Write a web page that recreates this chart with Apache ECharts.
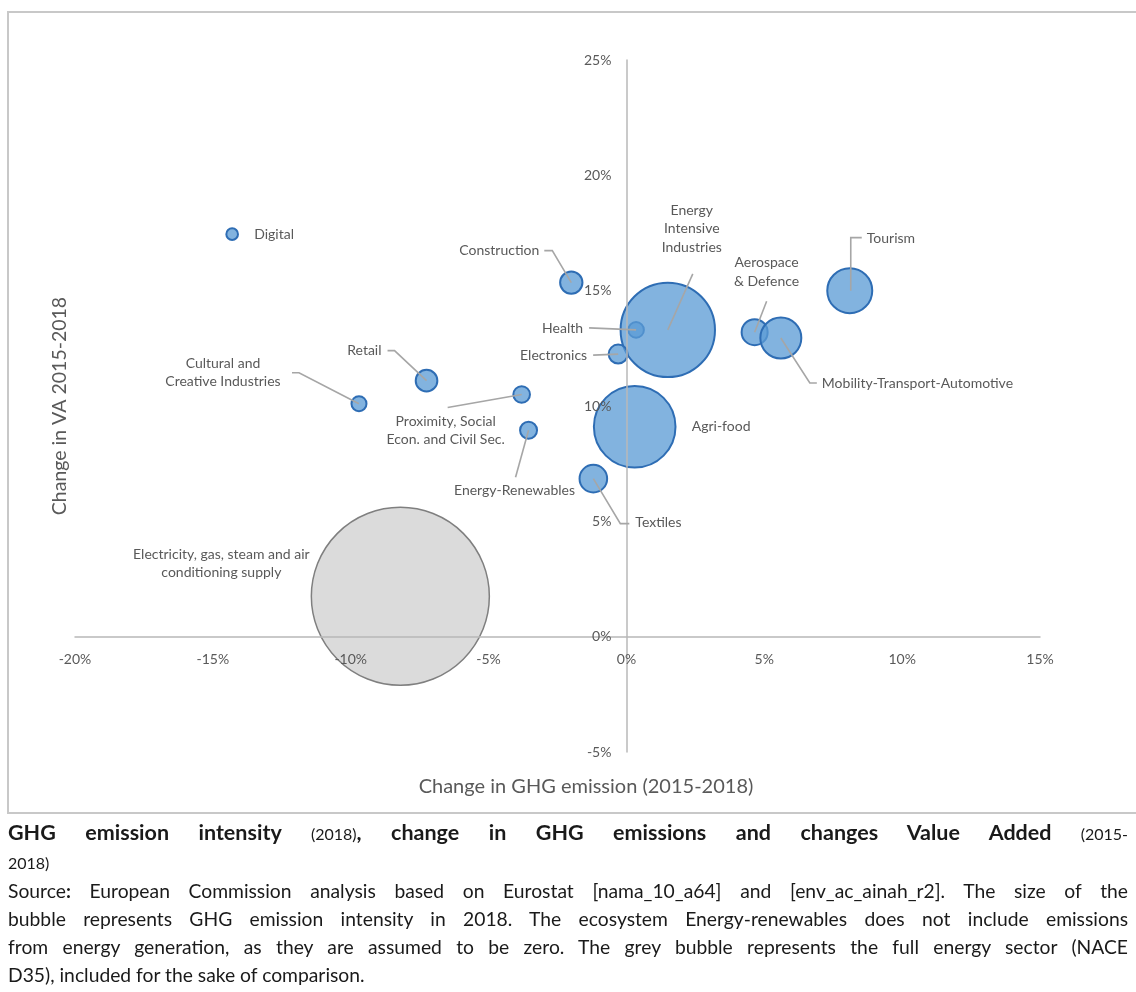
<!DOCTYPE html>
<html>
<head>
<meta charset="utf-8">
<script src="https://cdn.jsdelivr.net/npm/echarts@6/dist/echarts.min.js"></script>
<style>
  html, body { margin: 0; padding: 0; background: #fff; }
  #wrap { position: relative; width: 1136px; height: 992px; overflow: hidden; }
  #chart { position: absolute; left: 0; top: 0; width: 1136px; height: 813px; }
  #frame { position: absolute; left: 7px; top: 11px; width: 1140px; height: 803px;
           border-top: 2px solid #c8c8c8; border-left: 2px solid #c8c8c8; border-bottom: 2px solid #c8c8c8;
           box-sizing: border-box; pointer-events: none; }
  #caption { position: absolute; left: 8px; top: 818px; width: 1120px; font-family: Lato, "Open Sans", sans-serif;
             color: #1a1a1a; font-size: 19.3px; line-height: 28px; }
  #caption .ln { text-align: justify; text-align-last: justify; white-space: nowrap; }
  #caption .last { text-align: left; text-align-last: left; }
  #caption b { font-size: 21.5px; font-weight: 700; }
  #caption .sm { font-size: 16px; }
</style>
</head>
<body>
<div id="wrap">
  <div id="chart"></div>
  <div id="frame"></div>
  <div id="caption">
    <div class="ln"><b>GHG emission intensity</b> <span class="sm">(2018)</span><b>, change in GHG emissions and changes Value Added</b> <span class="sm">(2015-</span></div>
    <div class="ln last"><span class="sm">2018)</span></div>
    <div class="ln">Source<b style="font-size:19.3px">:</b> European Commission analysis based on Eurostat [nama_10_a64] and [env_ac_ainah_r2]. The size of the</div>
    <div class="ln">bubble represents GHG emission intensity in 2018. The ecosystem Energy-renewables does not include emissions</div>
    <div class="ln">from energy generation, as they are assumed to be zero. The grey bubble represents the full energy sector (NACE</div>
    <div class="ln last">D35), included for the sake of comparison.</div>
  </div>
</div>
<script>
// ---- Data ----
const ecosystems = [
  "Digital", "Construction", "Health", "Energy\nIntensive\nIndustries", "Electronics",
  "Aerospace\n& Defence", "Mobility-Transport-Automotive", "Tourism", "Retail",
  "Cultural and\nCreative Industries", "Proximity, Social\nEcon. and Civil Sec.",
  "Energy-Renewables", "Agri-food", "Textiles"
];
// change in GHG emissions 2015-2018 (%)
const ghgChange = [-14.3, -2.0, 0.35, 1.5, -0.3, 4.65, 5.6, 8.1, -7.25, -9.7, -3.8, -3.55, 0.3, -1.2];
// change in value added 2015-2018 (%)
const vaChange = [17.45, 15.35, 13.3, 13.3, 12.25, 13.2, 12.95, 15.0, 11.1, 10.1, 10.5, 8.95, 9.1, 6.85];
// GHG emission intensity 2018 (relative bubble size, area-proportional)
const intensity = [5.0, 17, 8.6, 284, 12.5, 22.8, 55, 66, 16, 8.0, 9.7, 10.1, 213, 25.5];

const energySector = "Electricity, gas, steam and air\nconditioning supply";
const energySectorGhg = -8.2;
const energySectorVa = 1.75;
const energySectorIntensity = 1000;

const xTicks = { min: -20, max: 15, interval: 5 };
const yTicks = { min: -5, max: 25, interval: 5 };

// ---- Presentation (label placement, pixel offsets from bubble centre) ----
const labelStyle = {
  "Digital": { offset: [22, 0], align: "left", leader: null },
  "Construction": { offset: [-32, -32], align: "right", leader: [[-27, -32], [-19, -32], [0, 0]] },
  "Health": { offset: [-53, -1], align: "right", leader: [[-47, -2], [0, 0]] },
  "Energy\nIntensive\nIndustries": { offset: [24, -101], align: "center", leader: [[25, -56], [0, 0]] },
  "Electronics": { offset: [-31, 1], align: "right", leader: [[-25, 1], [0, 0]] },
  "Aerospace\n& Defence": { offset: [12, -60], align: "center", leader: [[12, -31], [0, 0]] },
  "Mobility-Transport-Automotive": { offset: [41, 46], align: "left", leader: [[0, 0], [29, 45], [36, 45]] },
  "Tourism": { offset: [17, -52], align: "left", leader: [[1, 0], [1, -53], [12, -53]] },
  "Retail": { offset: [-45, -30], align: "right", leader: [[-39, -30], [-32, -30], [0, 0]] },
  "Cultural and\nCreative Industries": { offset: [-136, -31], align: "center", leader: [[-67, -31], [-60, -31], [0, 0]] },
  "Proximity, Social\nEcon. and Civil Sec.": { offset: [-76, 36], align: "center", leader: [[-74, 13], [0, 0]] },
  "Energy-Renewables": { offset: [-14, 60], align: "center", leader: [[-13, 47], [0, 0]] },
  "Agri-food": { offset: [57, 0], align: "left", leader: null },
  "Textiles": { offset: [42, 44], align: "left", leader: [[0, 0], [27, 45], [36, 45]] }
};
const energyLabelStyle = { offset: [-179, -33], align: "center" };

const FONT = "Lato, 'Open Sans', sans-serif";
const sizeOf = v => 179 * Math.sqrt(v / 1000) - 1;

const chart = echarts.init(document.getElementById('chart'), null, { renderer: 'canvas' });

const blueData = ecosystems.map((name, i) => {
  const st = labelStyle[name];
  return {
    name: name,
    value: [ghgChange[i], vaChange[i], intensity[i]],
    label: { offset: st.offset, align: st.align }
  };
});

const labelBase = {
  show: true, position: 'inside', formatter: p => p.name,
  color: '#595959', fontFamily: FONT, fontSize: 14, lineHeight: 18.5, verticalAlign: 'middle'
};

chart.setOption({
  animation: false,
  backgroundColor: '#fff',
  grid: { left: 75, right: 96, top: 60, bottom: 61, containLabel: false },
  xAxis: {
    type: 'value', min: xTicks.min, max: xTicks.max, interval: xTicks.interval, z: 3,
    axisLine: { show: true, onZero: false, lineStyle: { color: '#b8b8b8', width: 1.5 } },
    axisTick: { show: false }, splitLine: { show: false },
    axisLabel: { formatter: v => v + '%', color: '#595959', fontFamily: FONT, fontSize: 14, margin: 16 }
  },
  yAxis: {
    type: 'value', min: yTicks.min, max: yTicks.max, interval: yTicks.interval, z: 3,
    axisLine: { show: true, onZero: false, lineStyle: { color: '#b8b8b8', width: 1.5 } },
    axisTick: { show: false }, splitLine: { show: false },
    axisLabel: { formatter: v => v + '%', color: '#595959', fontFamily: FONT, fontSize: 14, margin: 15 }
  },
  series: [
    {
      type: 'scatter', name: 'Full energy sector (NACE D35)', z: 1,
      symbolSize: d => sizeOf(d[2]),
      itemStyle: { color: 'rgba(170,170,170,0.42)', borderColor: '#7f7f7f', borderWidth: 1.5, opacity: 1 },
      label: Object.assign({}, labelBase),
      data: [{ name: energySector, value: [energySectorGhg, energySectorVa, energySectorIntensity],
               label: { offset: energyLabelStyle.offset, align: energyLabelStyle.align } }]
    },
    {
      type: 'scatter', name: 'Ecosystems', z: 2,
      symbolSize: d => sizeOf(d[2]),
      itemStyle: { color: 'rgba(91,155,213,0.76)', borderColor: '#2e6db4', borderWidth: 2, opacity: 1 },
      label: Object.assign({}, labelBase),
      data: blueData
    }
  ]
});

// move the axes onto the zero lines (computed through the chart's own scales)
const origin = chart.convertToPixel({ gridIndex: 0 }, [0, 0]);
const g0 = chart.convertToPixel({ gridIndex: 0 }, [xTicks.min, yTicks.min]);
const g1 = chart.convertToPixel({ gridIndex: 0 }, [xTicks.max, yTicks.max]);
chart.setOption({
  xAxis: { offset: -(g0[1] - origin[1]) },
  yAxis: { offset: -(origin[0] - g0[0]) }
});

// axis titles + leader lines, positioned through the chart's own scales
const graphics = [];
ecosystems.forEach((name, i) => {
  const st = labelStyle[name];
  if (!st.leader) return;
  const c = chart.convertToPixel({ gridIndex: 0 }, [ghgChange[i], vaChange[i]]);
  graphics.push({
    type: 'polyline', z: 10, silent: true,
    shape: { points: st.leader.map(p => [c[0] + p[0], c[1] + p[1]]) },
    style: { stroke: '#a6a6a6', lineWidth: 1.6, fill: null }
  });
});
graphics.push({
  type: 'text', z: 10, x: 60, y: (g0[1] + g1[1]) / 2, rotation: Math.PI / 2,
  style: { text: 'Change in VA 2015-2018', fill: '#595959', font: '19.5px ' + FONT, align: 'center', verticalAlign: 'middle' }
});
graphics.push({
  type: 'text', z: 10, x: 586, y: 787,
  style: { text: 'Change in GHG emission (2015-2018)', fill: '#595959', font: '20px ' + FONT, align: 'center', verticalAlign: 'middle' }
});
chart.setOption({ graphic: graphics });
</script>
</body>
</html>
